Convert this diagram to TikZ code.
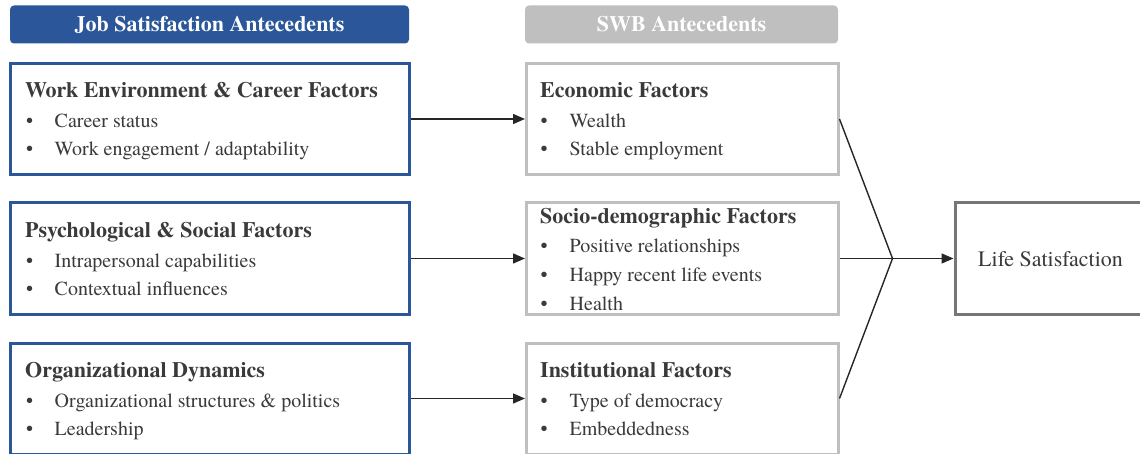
\documentclass[tikz,border=0pt]{standalone}
\usepackage{fontspec}
\setmainfont{texgyretermes}[Extension=.otf, UprightFont=*-regular, BoldFont=*-bold, ItalicFont=*-italic, BoldItalicFont=*-bolditalic]
\usetikzlibrary{arrows.meta}
\definecolor{jsblue}{HTML}{2B579A}
\definecolor{swbgray}{HTML}{BFBFBF}
\definecolor{lsgray}{HTML}{767676}
\definecolor{ink}{HTML}{3A3A3A}
\definecolor{wire}{HTML}{262626}
\tikzset{
  hdr/.style={rounded corners=4pt, minimum height=38pt, inner sep=0pt,
    text=white, font=\fontsize{22}{24}\selectfont\bfseries},
  lbox/.style={draw=jsblue, line width=3pt, fill=white, minimum width=399pt,
    minimum height=111pt, inner sep=0pt},
  mbox/.style={draw=swbgray, line width=3pt, fill=white, minimum width=311.5pt,
    minimum height=111pt, inner sep=0pt},
  lsbox/.style={draw=lsgray, line width=3pt, fill=white, minimum width=190pt,
    minimum height=111pt, inner sep=0pt},
  ttl/.style={anchor=base west, inner sep=0pt, text=ink,
    font=\fontsize{22}{24}\selectfont\bfseries},
  itm/.style={anchor=base west, inner sep=0pt, text=ink,
    font=\fontsize{20}{22}\selectfont},
  conn/.style={draw=wire, line width=1.4pt},
  arr/.style={conn, -{Triangle[length=12pt,width=10pt]}},
}
\begin{document}
\begin{tikzpicture}[x=1pt,y=-1pt]
\useasboundingbox (0,0) rectangle (1140,454);

% column headers
\node[hdr, fill=jsblue, minimum width=399pt] (hjs) at (209.5,24.5) {Job Satisfaction Antecedents};
\node[hdr, fill=swbgray, minimum width=313pt] (hswb) at (681.5,24.5) {SWB Antecedents};

% job satisfaction antecedents
\node[lbox] (l1) at (210,119) {};
\node[lbox] (l2) at (210,258.5) {};
\node[lbox] (l3) at (210,398.5) {};

% subjective well-being antecedents
\node[mbox] (m1) at (682.25,119) {};
\node[mbox] (m2) at (682.25,258.5) {};
\node[mbox] (m3) at (682.25,398.5) {};

% outcome
\node[lsbox] (ls) at (1050,258.5) {};
\node[anchor=base west, inner sep=0pt, text=ink, font=\fontsize{22}{24}\selectfont] (lstxt) at (978,266) {Life Satisfaction};

% left column texts
\node[ttl] (t1) at (25,98) {Work Environment \& Career Factors};
\node[itm] (b11) at (26,128) {•};
\node[itm] (i11) at (54.5,128) {Career status};
\node[itm] (b12) at (26,156) {•};
\node[itm] (i12) at (54.5,156) {Work engagement / adaptability};

\node[ttl] (t2) at (25,237.5) {Psychological \& Social Factors};
\node[itm] (b21) at (26,267.5) {•};
\node[itm] (i21) at (54.5,267.5) {Intrapersonal capabilities};
\node[itm] (b22) at (26,295.5) {•};
\node[itm] (i22) at (54.5,295.5) {Contextual influences};

\node[ttl] (t3) at (25,377) {Organizational Dynamics};
\node[itm] (b31) at (26,407.5) {•};
\node[itm] (i31) at (54.5,407.5) {Organizational structures \& politics};
\node[itm] (b32) at (26,435.5) {•};
\node[itm] (i32) at (54.5,435.5) {Leadership};

% middle column texts
\node[ttl] (s1) at (540,98) {Economic Factors};
\node[itm] (c11) at (540.5,128) {•};
\node[itm] (j11) at (569.5,128) {Wealth};
\node[itm] (c12) at (540.5,156) {•};
\node[itm] (j12) at (569.5,156) {Stable employment};

\node[ttl] (s2) at (540,223.5) {Socio-demographic Factors};
\node[itm] (c21) at (540.5,253) {•};
\node[itm] (j21) at (569.5,253) {Positive relationships};
\node[itm] (c22) at (540.5,281.5) {•};
\node[itm] (j22) at (569.5,281.5) {Happy recent life events};
\node[itm] (c23) at (540.5,310) {•};
\node[itm] (j23) at (569.5,310) {Health};

\node[ttl] (s3) at (540,377) {Institutional Factors};
\node[itm] (c31) at (540.5,407.5) {•};
\node[itm] (j31) at (569.5,407.5) {Type of democracy};
\node[itm] (c32) at (540.5,435.5) {•};
\node[itm] (j32) at (569.5,435.5) {Embeddedness};

% connectors
\draw[arr] (l1.east) -- (m1.west);
\draw[arr] (l2.east) -- (m2.west);
\draw[arr] (l3.east) -- (m3.west);

\coordinate (jn) at (892.5,258.5);
\draw[conn] (m1.east) -- (jn);
\draw[conn] (m3.east) -- (jn);
\draw[arr] (m2.east) -- (jn) -- (ls.west);
\end{tikzpicture}
\end{document}
